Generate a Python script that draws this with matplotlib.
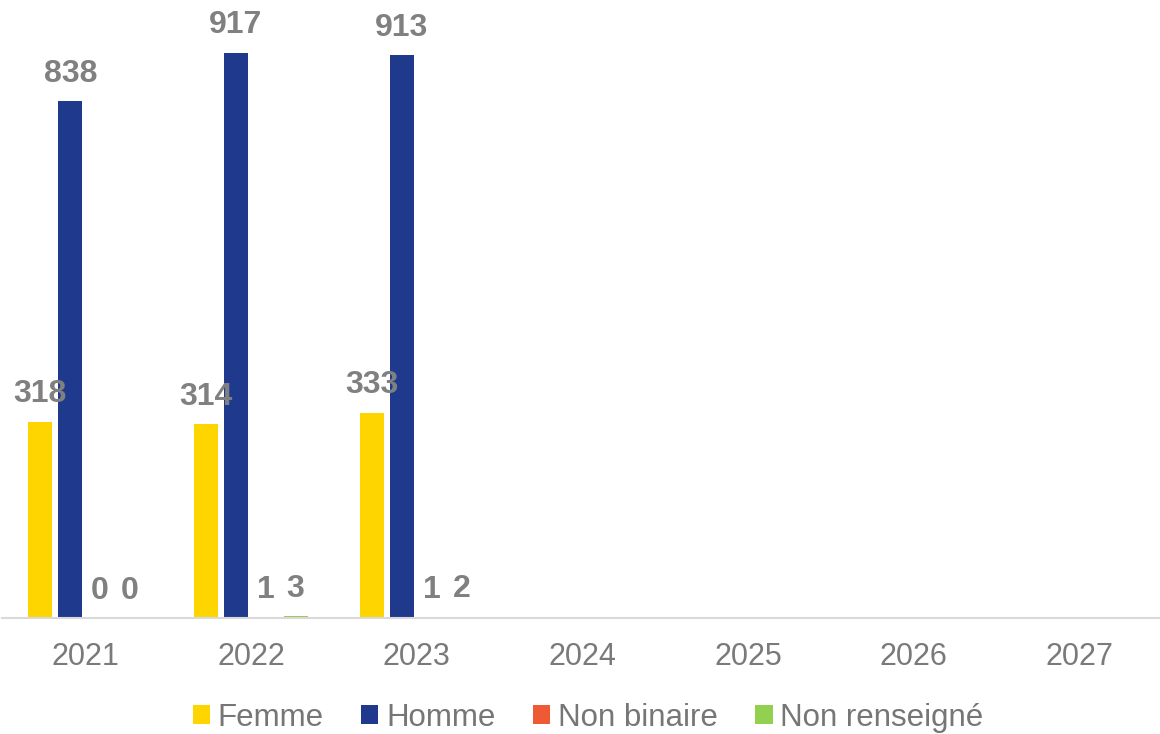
import numpy as np
import matplotlib.pyplot as plt

years = ['2021', '2022', '2023', '2024', '2025', '2026', '2027']
femme = [318, 314, 333, None, None, None, None]
homme = [838, 917, 913, None, None, None, None]
non_binaire = [0, 1, 1, None, None, None, None]
non_renseigne = [0, 3, 2, None, None, None, None]

series = [
    ('Femme', femme, '#FFD500'),
    ('Homme', homme, '#1F3A8C'),
    ('Non binaire', non_binaire, '#EE5A33'),
    ('Non renseigné', non_renseigne, '#92D050'),
]

plt.rcParams['font.family'] = ['Liberation Sans', 'DejaVu Sans']

fig = plt.figure(figsize=(11.6, 7.34), dpi=100)
ax = fig.add_axes([0.002, 0.158, 1.0, 0.84])

x = np.arange(len(years))
width = 0.145
step = 0.18

for i, (name, vals, color) in enumerate(series):
    offset = (i - 1.5) * step
    xs = [xi + offset for xi, v in zip(x, vals) if v is not None]
    vs = [v for v in vals if v is not None]
    ax.bar(xs, vs, width=width, color=color, label=name)
    for xi, v in zip(xs, vs):
        ax.annotate(str(v), (xi, v), xytext=(0, 9), textcoords='offset points',
                    ha='center', va='bottom', fontsize=23, fontweight='bold',
                    color='#808080')

ax.set_xlim(-0.5, len(years) - 0.5)
ax.set_ylim(0, 1000)
ax.set_xticks(x)
ax.set_xticklabels(years, fontsize=22, color='#7a7a7a')
ax.tick_params(axis='x', length=0, pad=17)
ax.set_yticks([])
for s in ['top', 'right', 'left']:
    ax.spines[s].set_visible(False)
ax.spines['bottom'].set_color('#d9d9d9')
ax.spines['bottom'].set_linewidth(1.5)

leg = fig.legend(loc='center', bbox_to_anchor=(0.507, 0.022), ncol=4, frameon=False,
                 fontsize=22.5, handlelength=0.55, handleheight=0.55, handletextpad=0.25,
                 columnspacing=1.2, labelcolor='#767676')

fig.savefig('out.png', dpi=100)
